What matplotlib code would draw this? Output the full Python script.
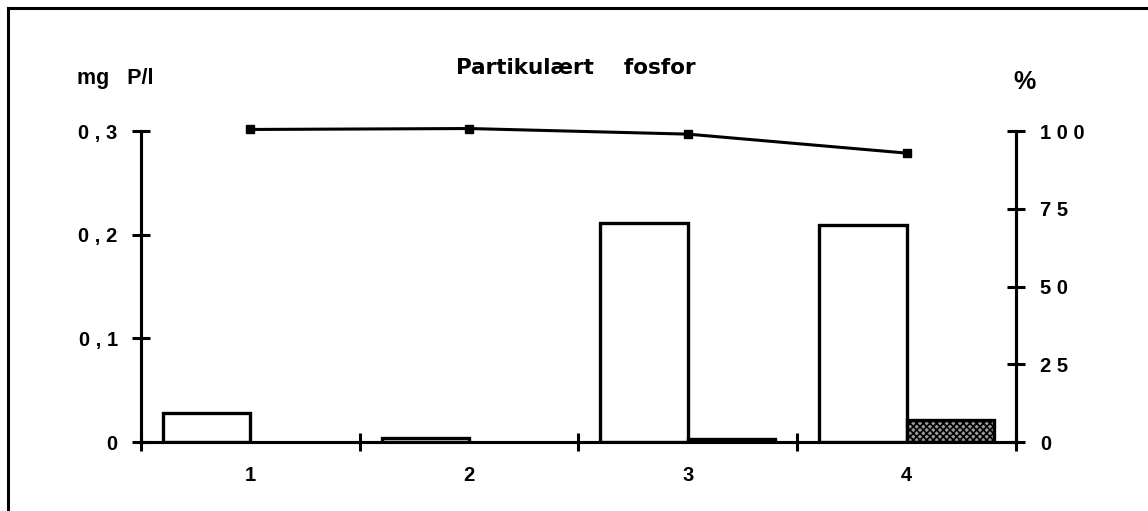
import numpy as np
import matplotlib
matplotlib.use('Agg')
import matplotlib.pyplot as plt
from matplotlib.lines import Line2D

plt.rcParams['font.family'] = ['Liberation Sans', 'DejaVu Sans']
plt.rcParams['hatch.linewidth'] = 1.2

# data
stations = [1, 2, 3, 4]
part_p = [0.028, 0.004, 0.211, 0.209]     # white bars, mg P/l
other_p = [0.0, 0.0, 0.003, 0.021]        # dotted bars, mg P/l
pct = [100.5, 100.8, 99.0, 92.9]          # line, %

left_ticks = [0, 0.1, 0.2, 0.3]
left_labels = ['0', '0 , 1', '0 , 2', '0 , 3']
right_ticks = [0, 25, 50, 75, 100]
right_labels = ['0', '2 5', '5 0', '7 5', '1 0 0']

fig = plt.figure(figsize=(11.48, 5.11), dpi=100)
ax = fig.add_axes([0.1228, 0.135, 0.885 - 0.1228, 0.7436 - 0.135])
ax2 = ax.twinx()

x = np.array(stations, dtype=float)
w = 0.4
lw = 2.4

# bars with value 0 are not drawn in the original
m1 = np.array(part_p) > 0
m2 = np.array(other_p) > 0
ax.bar(x[m1] - w / 2, np.array(part_p)[m1], width=w, color='white',
       edgecolor='black', linewidth=lw, zorder=3)
ax.bar(x[m2] + w / 2, np.array(other_p)[m2], width=w, color='#9a9a9a',
       edgecolor='black', hatch='xxxxx', linewidth=lw, zorder=3)

ax2.plot(x, pct, '-', color='black', linewidth=2.2, marker='s',
         markersize=6, clip_on=False, zorder=4)

ax.set_xlim(0.5, 4.5)
ax.set_ylim(0, 0.3)
ax2.set_ylim(0, 100)

for a in (ax, ax2):
    a.spines['top'].set_visible(False)
    for s in a.spines.values():
        s.set_linewidth(2.2)
    a.patch.set_visible(False)

ax.set_yticks(left_ticks)
ax.set_yticklabels(left_labels)
ax2.set_yticks(right_ticks)
ax2.set_yticklabels(right_labels)

ax.set_xticks(x)
ax.set_xticklabels([str(s) for s in stations])
ax.set_xticks(np.arange(0.5, 5.0, 1.0), minor=True)

for lab in ax.get_xticklabels() + ax.get_yticklabels() + ax2.get_yticklabels():
    lab.set_fontsize(14.5)
    lab.set_fontweight('bold')

ax.tick_params(axis='x', which='major', length=0, pad=17)
ax.tick_params(axis='x', which='minor', direction='inout', length=13.5, width=2.2)
ax.tick_params(axis='y', direction='inout', length=13.5, width=2.2, pad=10)
ax2.tick_params(axis='y', direction='inout', length=13.5, width=2.2, pad=10.5)

fig.text(0.10, 0.847, 'mg   P/l', ha='center', va='center', fontsize=15.5, fontweight='bold')
fig.text(0.892, 0.839, '%', ha='center', va='center', fontsize=18, fontweight='bold')
fig.text(0.502, 0.867, 'Partikulært    fosfor', ha='center', va='center',
         fontsize=15.5, fontweight='bold', family='DejaVu Sans')

# frame lines of the original figure (left and top only)
fig.add_artist(Line2D([0.007, 0.007], [0, 0.985], transform=fig.transFigure,
                      color='black', linewidth=2.2))
fig.add_artist(Line2D([0.007, 1.0], [0.985, 0.985], transform=fig.transFigure,
                      color='black', linewidth=2.2))

plt.savefig('out.png', dpi=100)
